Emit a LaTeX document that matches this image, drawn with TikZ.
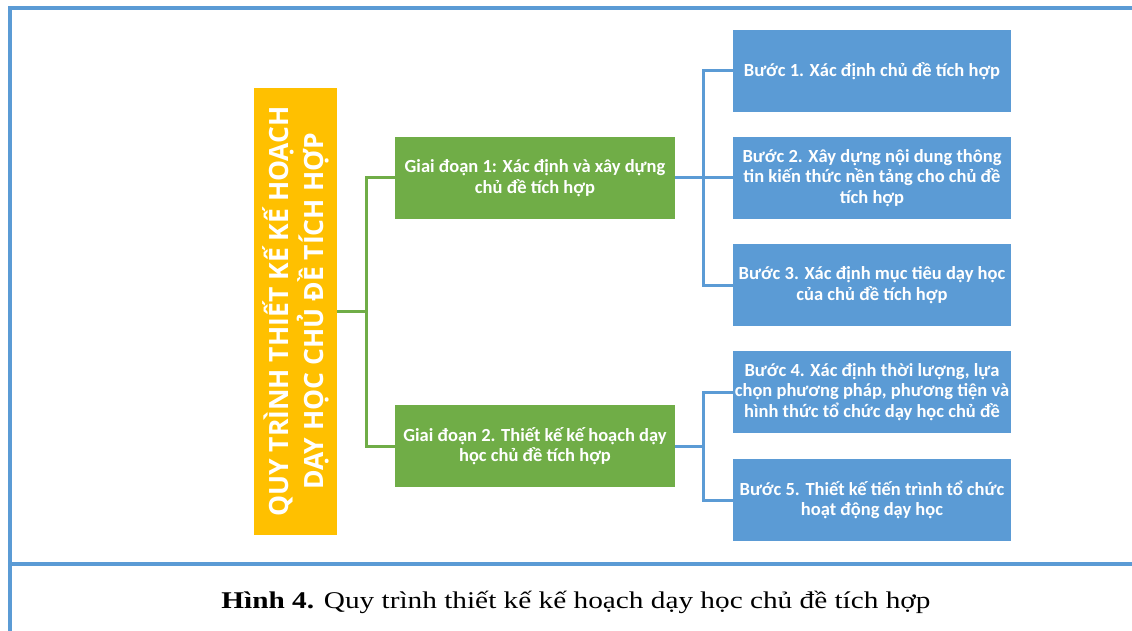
\documentclass[tikz,border=0pt]{standalone}
\usepackage{fontspec}
\setmainfont[FakeStretch=1.22]{Liberation Serif}
\newfontfamily\boxfont{Carlito}
\newfontfamily\titlefont{Open Sans}
\usetikzlibrary{positioning}
\definecolor{gdgreen}{HTML}{70AD47}
\definecolor{stepblue}{HTML}{5B9BD5}
\definecolor{titleyellow}{HTML}{FFC000}

\begin{document}
\begin{tikzpicture}[x=1pt,y=-1pt,
    gline/.style={draw=gdgreen,line width=3pt},
    bline/.style={draw=stepblue,line width=3pt},
    frameline/.style={draw=stepblue,line width=3.5pt}]
\useasboundingbox (0,0) rectangle (1132,631);
% frame
\draw[frameline] (10,631) -- (10,8) -- (1132,8);
\draw[frameline] (10,564) -- (1132,564);
\node (Q) at (295.5,311.5) [rotate=90,fill=titleyellow,text=white,
    minimum width=447pt,minimum height=83pt,inner sep=0pt,align=center,
    font=\titlefont\bfseries\fontsize{26.5}{35}\selectfont]
    {QUY TRÌNH THIẾT KẾ KẾ HOẠCH\\DẠY HỌC CHỦ ĐỀ TÍCH HỢP};
\begin{scope}[every node/.style={fill=gdgreen,text=white,minimum width=280pt,
    minimum height=82pt,inner sep=0pt,align=center,
    font=\boxfont\bfseries\fontsize{18.5}{20.5}\selectfont}]
    \node (G1) at (535,178) {Giai đoạn 1: Xác định và xây dựng\\chủ đề tích hợp};
    \node (G2) at (535,446) {Giai đoạn 2. Thiết kế kế hoạch dạy\\học chủ đề tích hợp};
\end{scope}
\begin{scope}[every node/.style={fill=stepblue,text=white,minimum width=278pt,
    minimum height=82pt,inner sep=0pt,align=center,
    font=\boxfont\bfseries\fontsize{18.5}{20.5}\selectfont}]
    \node (B1) at (872,71) {Bước 1. Xác định chủ đề tích hợp};
    \node (B2) at (872,178) {Bước 2. Xây dựng nội dung thông\\tin kiến thức nền tảng cho chủ đề\\tích hợp};
    \node (B3) at (872,285) {Bước 3. Xác định mục tiêu dạy học\\của chủ đề tích hợp};
    \node (B4) at (872,392) {Bước 4. Xác định thời lượng, lựa\\chọn phương pháp, phương tiện và\\hình thức tổ chức dạy học chủ đề};
    \node (B5) at (872,500) {Bước 5. Thiết kế tiến trình tổ chức\\hoạt động dạy học};
\end{scope}
\draw[gline] (Q.south) -- ++(29,0) |- (G1.west);
\draw[gline] (Q.south) -- ++(29,0) |- (G2.west);
\draw[bline] (G1.east) -- ++(28,0) |- (B1.west);
\draw[bline] (G1.east) -- ++(28,0) |- (B2.west);
\draw[bline] (G1.east) -- ++(28,0) |- (B3.west);
\draw[bline] (G2.east) -- ++(28,0) |- (B4.west);
\draw[bline] (G2.east) -- ++(28,0) |- (B5.west);
\node (cap) at (576,608) [anchor=base,font=\fontsize{24}{28}\selectfont]
    {\textbf{Hình 4.} Quy trình thiết kế kế hoạch dạy học chủ đề tích hợp};
\end{tikzpicture}
\end{document}
